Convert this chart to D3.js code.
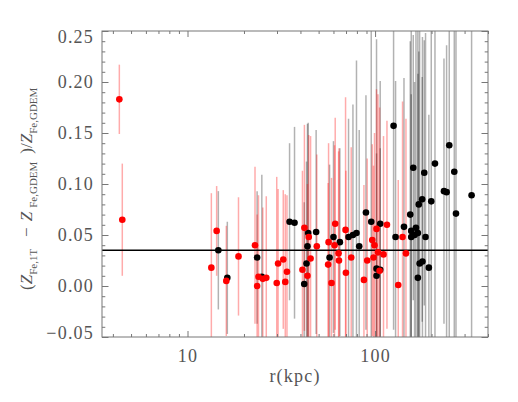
<!DOCTYPE html>
<html>
<head>
<meta charset="utf-8">
<script src="https://cdn.jsdelivr.net/npm/d3@7"></script>
<style>
    body { margin: 0; background: #fff; }
    svg text { font-family: "Liberation Serif", serif; }
</style>
</head>
<body>
<svg width="518" height="402"></svg>
<script>
// red sample
var redR = [4.33, 4.49, 13.4, 14.3, 16.1, 18.7, 22.9, 23.9, 23.5, 25.2, 26.3, 29.9, 30.4, 32.4, 33.2,
    33.9, 41.0, 42.0, 43.6, 44.3, 45.3, 48.9, 56.2, 56.5, 58.6, 60.8, 61.3, 63.9, 64.2, 69.6,
    69.9, 74.6, 87.2, 90.8, 96.6, 98.1, 99.3, 101.8, 103.6, 105.7, 110.9, 115.7, 132.9, 140.1, 146.1];
var redZ = [0.183, 0.065, 0.018, 0.054, 0.005, 0.029, 0.040, 0.009, 0.000, 0.007, 0.008, 0.003, 0.022, 0.026, 0.004,
    0.014, 0.016, 0.057, 0.010, 0.048, 0.027, 0.039, 0.021, 0.043, 0.003, 0.040, 0.061, 0.032, 0.025, 0.055,
    0.013, 0.028, 0.006, 0.025, 0.045, 0.028, 0.040, 0.056, 0.033, 0.015, 0.031, 0.060, 0.001, 0.048, 0.032];
var redErr = [0.034, 0.055, 0.073, 0.044, 0.054, 0.058, 0.077, 0.080, 0.070, 0.070, 0.080, 0.104, 0.073, 0.068, 0.086,
    0.075, 0.097, 0.101, 0.090, 0.100, 0.120, 0.090, 0.080, 0.097, 0.103, 0.098, 0.104, 0.100, 0.110, 0.130,
    0.100, 0.108, 0.093, 0.100, 0.094, 0.090, 0.110, 0.137, 0.155, 0.160, 0.116, 0.102, 0.103, 0.133, 0.132];

// black sample
var blackR = [14.6, 16.3, 23.5, 24.9, 35.0, 37.2, 41.9, 43.1, 43.6, 44.0, 48.5, 57.2, 60.0, 64.9, 72.2,
    76.2, 79.6, 82.3, 89.4, 95.4, 101.8, 101.8, 106.5, 106.5, 125.5, 128.6, 142.6, 154.0, 155.9, 155.9,
    159.8, 162.4, 165.2, 169.1, 169.1, 171.0, 172.8, 178.3, 178.9, 182.9, 185.8, 193.5, 199.3, 208.6, 233.0,
    240.6, 248.6, 264.4, 270.0, 327.0];
var blackZ = [0.035, 0.008, 0.028, 0.009, 0.063, 0.062, 0.002, 0.022, 0.039, 0.052, 0.053, 0.028, 0.048, 0.043, 0.048,
    0.050, 0.052, 0.039, 0.072, 0.063, 0.017, 0.010, 0.061, 0.016, 0.157, 0.048, 0.058, 0.070, 0.054, 0.048,
    0.116, 0.050, 0.057, 0.052, 0.008, 0.080, 0.022, 0.085, 0.024, 0.111, 0.048, 0.018, 0.083, 0.120, 0.093,
    0.092, 0.138, 0.112, 0.071, 0.089];
var blackErr = [0.058, 0.055, 0.065, 0.100, 0.077, 0.094, 0.080, 0.100, 0.120, 0.108, 0.100, 0.091, 0.094, 0.092, 0.116,
    0.128, 0.169, 0.114, 0.115, 0.250, 0.225, 0.120, 0.140, 0.119, 0.200, 0.153, 0.146, 0.170, 0.200, 0.140,
    0.130, 0.150, 0.220, 0.260, 0.200, 0.150, 0.300, 0.120, 0.220, 0.130, 0.200, 0.150, 0.300, 0.200, 0.130,
    0.144, 0.250, 0.300, 0.300, 0.300];

var meanLevel = 0.035;
var xTickLabels = [10, 100];
var yTickLabels = [-0.05, 0.00, 0.05, 0.10, 0.15, 0.20, 0.25];

var svg = d3.select("svg"),
    margin = {top: 31, right: 30, bottom: 65, left: 102},
    width = +svg.attr("width") - margin.left - margin.right,
    height = +svg.attr("height") - margin.top - margin.bottom,
    g = svg.append("g").attr("transform", "translate(" + margin.left + "," + margin.top + ")");

var axisColor = "#777",
    textColor = "#555";

var x = d3.scaleLog()
    .domain([3.5, 400])
    .range([0, width]);

var y = d3.scaleLinear()
    .domain([-0.05, 0.25])
    .range([height, 0]);

var toPoints = function (rs, zs, errs) {
    return rs.map(function (r, i) {
        return {r: r, z: zs[i], err: errs[i]};
    });
};
var red = toPoints(redR, redZ, redErr),
    black = toPoints(blackR, blackZ, blackErr);

svg.append("clipPath")
    .attr("id", "clip")
    .append("rect")
    .attr("width", width)
    .attr("height", height);

var plot = g.append("g").attr("clip-path", "url(#clip)");

var drawBars = function (data, color) {
    plot.append("g")
        .selectAll("line")
        .data(data)
        .enter().append("line")
        .attr("x1", function (d) { return x(d.r); })
        .attr("x2", function (d) { return x(d.r); })
        .attr("y1", function (d) { return y(d.z - d.err); })
        .attr("y2", function (d) { return y(d.z + d.err); })
        .attr("stroke", color)
        .attr("stroke-width", 1.5);
};

var drawDots = function (data, color) {
    plot.append("g")
        .selectAll("circle")
        .data(data)
        .enter().append("circle")
        .attr("cx", function (d) { return x(d.r); })
        .attr("cy", function (d) { return y(d.z); })
        .attr("r", 3.3)
        .attr("fill", color);
};

drawBars(black, "rgba(0,0,0,0.3)");
drawBars(red, "rgba(255,0,0,0.33)");

plot.append("line")
    .attr("x1", 0)
    .attr("x2", width)
    .attr("y1", y(meanLevel))
    .attr("y2", y(meanLevel))
    .attr("stroke", "#000")
    .attr("stroke-width", 1.5);

drawDots(black, "#000");
drawDots(red, "#f00");

// axes: ticks point inward on all four sides
var xMinor = x.ticks().filter(function (d) { return xTickLabels.indexOf(d) < 0; }),
    yMinor = y.ticks(30).filter(function (d) { return Math.abs(Math.round(d * 100) % 5) !== 0; });

var styleAxis = function (sel) {
    sel.select(".domain").remove();
    sel.selectAll("line").attr("stroke", axisColor);
    sel.selectAll("text")
        .attr("fill", textColor)
        .style("font-size", "18px")
        .style("letter-spacing", "1.2px")
        .style("font-family", "Liberation Serif, serif");
};

g.append("g")
    .attr("transform", "translate(0," + height + ")")
    .call(d3.axisBottom(x).tickValues(xTickLabels).tickSizeInner(-6).tickSizeOuter(0)
        .tickPadding(12).tickFormat(d3.format("d")))
    .call(styleAxis);
g.append("g")
    .attr("transform", "translate(0," + height + ")")
    .call(d3.axisBottom(x).tickValues(xMinor).tickSizeInner(-3).tickSizeOuter(0).tickFormat(""))
    .call(styleAxis);
g.append("g")
    .call(d3.axisTop(x).tickValues(xTickLabels).tickSizeInner(-6).tickSizeOuter(0).tickFormat(""))
    .call(styleAxis);
g.append("g")
    .call(d3.axisTop(x).tickValues(xMinor).tickSizeInner(-3).tickSizeOuter(0).tickFormat(""))
    .call(styleAxis);

g.append("g")
    .call(d3.axisLeft(y).tickValues(yTickLabels).tickSizeInner(-6.5).tickSizeOuter(0)
        .tickPadding(8).tickFormat(d3.format(".2f")))
    .call(styleAxis)
    .selectAll("text")
    .attr("y", function (d) { return d === 0.25 ? 6 : (d === -0.05 ? -4 : 0); });
g.append("g")
    .call(d3.axisLeft(y).tickValues(yMinor).tickSizeInner(-3.3).tickSizeOuter(0).tickFormat(""))
    .call(styleAxis);
g.append("g")
    .attr("transform", "translate(" + width + ",0)")
    .call(d3.axisRight(y).tickValues(yTickLabels).tickSizeInner(-6.5).tickSizeOuter(0).tickFormat(""))
    .call(styleAxis);
g.append("g")
    .attr("transform", "translate(" + width + ",0)")
    .call(d3.axisRight(y).tickValues(yMinor).tickSizeInner(-3.3).tickSizeOuter(0).tickFormat(""))
    .call(styleAxis);

g.append("rect")
    .attr("width", width)
    .attr("height", height)
    .attr("fill", "none")
    .attr("stroke", axisColor)
    .attr("stroke-width", 1);

// axis titles
g.append("text")
    .attr("x", width / 2)
    .attr("y", height + 45)
    .attr("text-anchor", "middle")
    .attr("fill", textColor)
    .style("font-size", "18px")
    .style("letter-spacing", "1.2px")
    .text("r(kpc)");

var ylab = svg.append("text")
    .attr("transform", "translate(32,290) rotate(-90)")
    .attr("fill", textColor)
    .style("font-size", "17px");
ylab.append("tspan").text("(");
ylab.append("tspan").style("font-style", "italic").text("Z");
ylab.append("tspan").attr("dy", 5).style("font-size", "11px").text("Fe,1T");
ylab.append("tspan").attr("dy", -5).attr("dx", 12).text("\u2212");
ylab.append("tspan").attr("dx", 6).style("font-style", "italic").text("Z");
ylab.append("tspan").attr("dy", 5).attr("dx", 4).style("font-size", "11px").text("Fe,GDEM");
ylab.append("tspan").attr("dy", -5).attr("dx", 8).text(")/");
ylab.append("tspan").style("font-style", "italic").text("Z");
ylab.append("tspan").attr("dy", 5).style("font-size", "11px").text("Fe,GDEM");
</script>
</body>
</html>
